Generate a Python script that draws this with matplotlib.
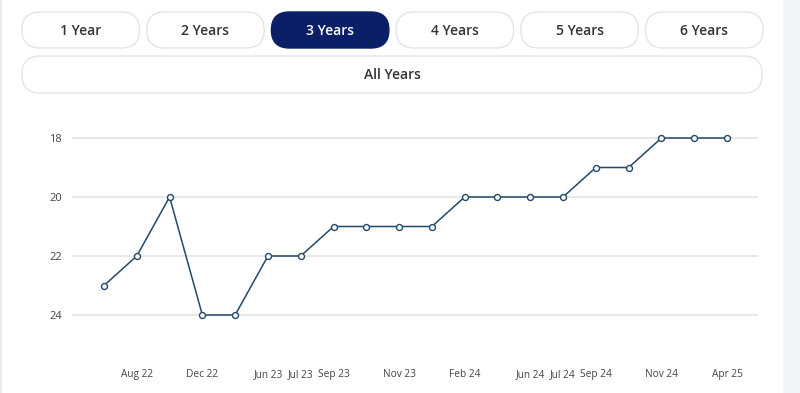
import matplotlib.pyplot as plt
from matplotlib.patches import FancyBboxPatch, Rectangle

# data
ranks = [23, 22, 20, 24, 24, 22, 22, 21, 21, 21, 21, 20, 20, 20, 20, 19, 19, 18, 18, 18]
tick_idx = [1, 3, 5, 6, 7, 9, 11, 13, 14, 15, 17, 19]
tick_labels = ['Aug 22', 'Dec 22', 'Jun 23', 'Jul 23', 'Sep 23', 'Nov 23',
               'Feb 24', 'Jun 24', 'Jul 24', 'Sep 24', 'Nov 24', 'Apr 25']
yticks = [18, 20, 22, 24]
buttons = ['1 Year', '2 Years', '3 Years', '4 Years', '5 Years', '6 Years']
selected = '3 Years'

plt.rcParams['font.family'] = ['Open Sans', 'DejaVu Sans']

W, H = 800, 393
fig = plt.figure(figsize=(W / 100, H / 100), dpi=100)

# background layer in pixel coordinates
bg = fig.add_axes([0, 0, 1, 1])
bg.set_xlim(0, W)
bg.set_ylim(H, 0)
bg.axis('off')
bg.add_patch(Rectangle((783, 0), 17, H, color='#f3f5f8', lw=0))
bg.add_patch(Rectangle((0, 0), 2, H, color='#ececec', lw=0))

navy = '#0b1f66'
x0, bw, gap = 22, 117.5, 7.2
for i, name in enumerate(buttons):
    bx = x0 + i * (bw + gap)
    sel = name == selected
    bg.add_patch(FancyBboxPatch((bx, 12), bw, 36,
                                boxstyle='round,pad=0,rounding_size=18',
                                fc=navy if sel else 'white',
                                ec=navy if sel else '#e4e4e4', lw=1))
    bg.text(bx + bw / 2, 31, name, ha='center', va='center', fontsize=10,
            fontweight='semibold', color='white' if sel else '#333333')

bg.add_patch(FancyBboxPatch((22, 56), 740, 37,
                            boxstyle='round,pad=0,rounding_size=18',
                            fc='white', ec='#e4e4e4', lw=1))
bg.text(392, 75, 'All Years', ha='center', va='center', fontsize=10,
        fontweight='semibold', color='#333333')

# chart
left, right, top, bottom = 72, 758, 110, 340
ax = fig.add_axes([left / W, 1 - bottom / H, (right - left) / W, (bottom - top) / H])
ax.patch.set_alpha(0)
x = list(range(len(ranks)))
ax.plot(x, ranks, color='#23496b', lw=1.1, marker='o', ms=4.3,
        mfc='white', mec='#23496b', mew=1.0, zorder=3)

step = (727 - 104) / 19
ax.set_xlim(-(104 - left) / step, 19 + (right - 727) / step)
unit = (315 - 138) / 6
ax.set_ylim(24 + (bottom - 315) / unit, 18 - (138 - top) / unit)

ax.set_yticks(yticks)
ax.set_xticks(tick_idx)
ax.set_xticklabels(tick_labels, fontsize=7.3)
ax.grid(axis='y', color='#e8e8e8', lw=1.4)
ax.tick_params(axis='both', length=0, labelcolor='#444444')
ax.tick_params(axis='y', pad=7, labelsize=8)
ax.tick_params(axis='x', pad=21)
for s in ax.spines.values():
    s.set_visible(False)

fig.savefig('out.png', dpi=100)
